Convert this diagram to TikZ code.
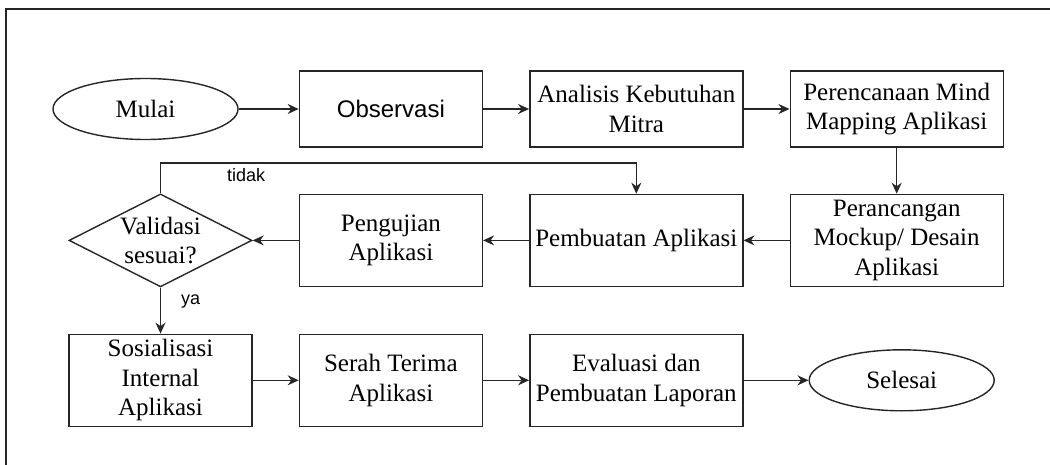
\documentclass[tikz,border=0pt]{standalone}
\usepackage{fontspec}
\setmainfont{Liberation Serif}
\newfontfamily\arialfont{Liberation Sans}
\usetikzlibrary{shapes.geometric,arrows.meta,positioning}

\begin{document}
\begin{tikzpicture}[
    x=1pt, y=1pt,
    node distance=46pt and 46pt,
    box/.style={rectangle, draw=black!85, line width=1.4pt, minimum width=213pt, minimum height=92pt, align=center, inner sep=1pt, font=\fontsize{25}{29.5}\selectfont},
    narrowbox/.style={box, minimum width=183pt},
    terminal/.style={ellipse, draw=black!85, line width=1.4pt, minimum width=185pt, minimum height=61pt, inner sep=1pt, font=\fontsize{25}{29.5}\selectfont},
    decision/.style={diamond, aspect=2, draw=black!85, line width=1.4pt, minimum width=183pt, minimum height=93pt, inner sep=0pt, align=center, font=\fontsize{25}{29.5}\selectfont},
    lbl/.style={font=\arialfont\fontsize{18}{20}\selectfont, inner sep=2pt},
    arrow/.style={-{Stealth[length=11pt, width=10pt]}, line width=1.4pt, draw=black!85}
]
    \useasboundingbox (0,0) rectangle (1050,-465);
    % Frame
    \draw[line width=1.4pt, black!85] (6,-465) -- (6,-9) -- (1050,-9);

    % Row 1
    \node[terminal] (mulai) at (145.5,-109) {Mulai};
    \node[narrowbox, minimum height=76pt, right=60pt of mulai, font=\arialfont\fontsize{24}{28}\selectfont] (obs) {Observasi};
    \node[box, minimum height=76pt, right=of obs] (analisis) {Analisis Kebutuhan\\Mitra};
    \node[box, minimum height=76pt, right=of analisis] (rencana) {Perencanaan Mind\\Mapping Aplikasi};
    % Row 2
    \node[box, below=of rencana] (rancang) {Perancangan\\Mockup/ Desain\\Aplikasi};
    \node[box, left=of rancang] (buat) {Pembuatan Aplikasi};
    \node[narrowbox, left=of buat] (uji) {Pengujian\\Aplikasi};
    \node[decision, left=of uji] (val) {Validasi\\sesuai?};
    % Row 3
    \node[narrowbox, below=of val] (sos) {Sosialisasi\\Internal\\Aplikasi};
    \node[narrowbox, right=of sos] (serah) {Serah Terima\\Aplikasi};
    \node[box, right=of serah] (eval) {Evaluasi dan\\Pembuatan Laporan};
    \node[terminal, right=65pt of eval] (selesai) {Selesai};

    % Arrows
    \draw[arrow] (mulai) -- (obs);
    \draw[arrow] (obs) -- (analisis);
    \draw[arrow] (analisis) -- (rencana);
    \draw[arrow] (rencana) -- (rancang);
    \draw[arrow] (rancang) -- (buat);
    \draw[arrow] (buat) -- (uji);
    \draw[arrow] (uji) -- (val);
    \draw[arrow] (val.north) -- ++(0,30) -| node[lbl, pos=0.09, below=3pt] (tidak) {tidak} (buat.north);
    \draw[arrow] (val) -- node[lbl, pos=0.3, right=18pt] (ya) {ya} (sos);
    \draw[arrow] (sos) -- (serah);
    \draw[arrow] (serah) -- (eval);
    \draw[arrow] (eval) -- (selesai);
\end{tikzpicture}
\end{document}
